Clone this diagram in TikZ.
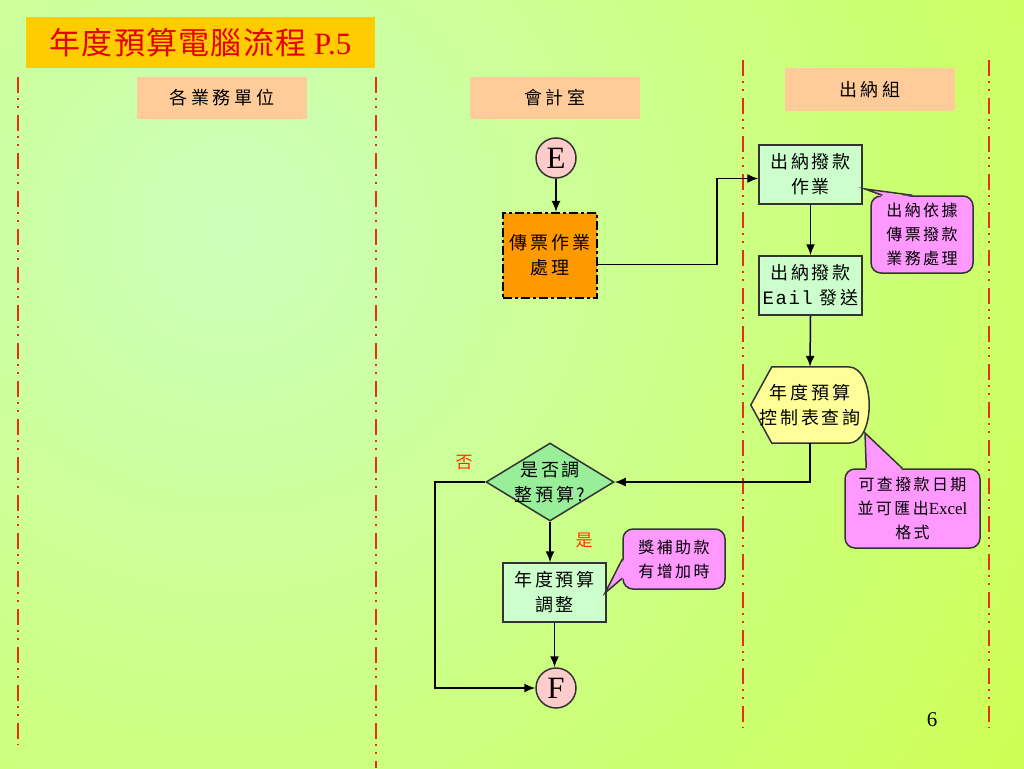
\documentclass[tikz,border=0pt]{standalone}
\usepackage{fontspec}
\setmainfont{Liberation Serif}
\setmonofont{Liberation Mono}
\newfontfamily\cjk[LetterSpace=15]{Noto Sans CJK TC}
\newfontfamily\cjkhdr[LetterSpace=20]{Noto Sans CJK TC}
\newfontfamily\cjktitle[LetterSpace=4]{Noto Sans CJK TC}
\newfontfamily\lmono[LetterSpace=8]{Liberation Mono}
\usetikzlibrary{arrows.meta,calc,shapes.geometric}
\pgfdeclarelayer{bg}
\pgfdeclarelayer{behind}
\pgfsetlayers{bg,behind,main}
\definecolor{bglight}{HTML}{CCFFBB}
\definecolor{bgyg}{HTML}{CCFF44}
\definecolor{titlebg}{HTML}{FFCC00}
\definecolor{titlered}{HTML}{E60000}
\definecolor{hdr}{HTML}{FFCC99}
\definecolor{boxg}{HTML}{CCFFCC}
\definecolor{pinkc}{HTML}{FFCCCC}
\definecolor{orng}{HTML}{FF9900}
\definecolor{callp}{HTML}{FF99FF}
\definecolor{dispy}{HTML}{FFFF99}
\definecolor{diag}{HTML}{99EE99}
\definecolor{lanered}{HTML}{E83010}
\definecolor{labred}{HTML}{FF3300}
\definecolor{edge}{HTML}{333333}
\tikzset{
  lane/.style={draw=lanered, line width=2pt, dash pattern=on 16pt off 5pt on 2pt off 6pt on 2pt off 7pt},
  hdrbox/.style={fill=hdr, minimum width=170pt, minimum height=42pt, inner sep=0pt, font=\cjkhdr\fontsize{18}{22}\selectfont},
  procbox/.style={draw=edge, line width=1.5pt, fill=boxg, minimum width=103pt, minimum height=59pt, inner sep=0pt, align=center, font=\cjk\fontsize{18}{25}\selectfont},
  conn/.style={circle, draw=edge, line width=1.5pt, fill=pinkc, minimum size=40pt, inner sep=0pt, font=\fontsize{31}{31}\selectfont},
  callbox/.style={draw=edge, line width=1.5pt, fill=callp, rounded corners=10pt, inner sep=0pt, align=center, font=\cjk\fontsize{16}{24}\selectfont},
  ptrfill/.style={fill=callp},
  ptredge/.style={draw=edge, line width=1.5pt},
  arr/.style={draw=black, line width=1.5pt, -{Latex[length=11pt,width=9pt]}},
  lab/.style={text=labred, font=\cjk\fontsize{17}{17}\selectfont},
}
\begin{document}
\begin{tikzpicture}[x=1pt,y=-1pt]
\useasboundingbox (0,0) rectangle (1024,768);
\begin{pgfonlayer}{bg}
\fill[bgyg] (0,0) rectangle (1024,768);
\begin{scope}
\clip (0,0) rectangle (1024,768);
\shade[inner color=bglight, outer color=bgyg] (230,230) circle (1100);
\end{scope}
\end{pgfonlayer}

% swimlane separators
\draw[lane] (18,77) -- (18,745);
\draw[lane] (376,77) -- (376,768);
\draw[lane] (743,60) -- (743,728);
\draw[lane] (989,60) -- (989,728);

% title and headers
\node[fill=titlebg, minimum width=349pt, minimum height=51pt, inner sep=0pt, text=titlered] (title) at (200.5,42.5)
  {\cjktitle\fontsize{31}{31}\selectfont 年度預算電腦流程\rmfamily\ P.5};
\node[hdrbox] (h1) at (222,98) {各業務單位};
\node[hdrbox] (h2) at (555,98) {會計室};
\node[hdrbox, minimum height=43pt] (h3) at (870,89.5) {出納組};

% flow nodes
\node[conn] (E) at (556,158) {E};
\node[draw=black, line width=2.2pt, dash pattern=on 9pt off 3pt on 3pt off 3pt, fill=orng,
      minimum width=94pt, minimum height=85pt, inner sep=0pt, align=center,
      font=\cjk\fontsize{18}{25}\selectfont] (p1) at (550,255.5) {傳票作業\\處理};
\node[procbox] (n1) at (810.5,174.5) {出納撥款\\作業};
\node[procbox] (n2) at (810.5,285.5) {出納撥款\\{\lmono\fontsize{19}{25}\selectfont Eail} 發送};
\node[minimum width=118pt, minimum height=76pt, inner sep=0pt, align=center,
      font=\cjk\fontsize{18}{25}\selectfont] (disp) at (810,405) {年度預算\\控制表查詢};
\begin{pgfonlayer}{behind}
\filldraw[fill=dispy, draw=edge, line width=1.5pt]
  (disp.west) -- ($(disp.north west)+(21,0)$) -- ($(disp.north east)+(-21,0)$)
  .. controls ($(disp.north east)+(7,0)$) and ($(disp.south east)+(7,0)$) .. ($(disp.south east)+(-21,0)$)
  -- ($(disp.south west)+(21,0)$) -- cycle;
\end{pgfonlayer}
\node[diamond, draw=edge, line width=1.5pt, fill=diag, minimum width=128pt, minimum height=78pt, inner sep=0pt] (dia) at (550,482) {};
\node[align=center, font=\cjk\fontsize{18}{25}\selectfont] (diat) at (dia.center) {是否調\\整預算?};
\node[procbox] (r) at (554.5,592.5) {年度預算\\調整};
\node[conn] (F) at (556,688) {F};

% labels
\node[lab] (no) at (464,463) {否};
\node[lab] (yes) at (584,540) {是};
\node[font=\fontsize{21}{21}\selectfont] (pg) at (932,720) {6};

% callouts
\node[callbox, minimum width=102pt, minimum height=77pt] (c1) at (922,234.5) {出納依據\\傳票撥款\\業務處理};
\coordinate (t1) at (865,189);
\fill[ptrfill] ($(c1.north west)+(12,1.8)$) -- (t1) -- ($(c1.north west)+(42,1.8)$) -- cycle;
\draw[ptredge] ($(c1.north west)+(12,0)$) -- (t1) -- ($(c1.north west)+(42,0)$);

\node[callbox, minimum width=135pt, minimum height=79pt] (c2) at (912.5,508.5) {可查撥款日期\\並可匯出{\rmfamily\fontsize{17}{24}\selectfont Excel}\\格式};
\coordinate (t2) at (865,433);
\fill[ptrfill] ($(c2.north west)+(22,1.8)$) -- (t2) -- ($(c2.north west)+(58,1.8)$) -- cycle;
\draw[ptredge] ($(c2.north west)+(22,0)$) -- (t2) -- ($(c2.north west)+(58,0)$);

\node[callbox, minimum width=102pt, minimum height=60pt] (c3) at (674,559) {獎補助款\\有增加時};
\coordinate (t3) at (605,593);
\fill[ptrfill] ($(c3.north west)+(1.8,31)$) -- (t3) -- ($(c3.north west)+(1.8,50)$) -- cycle;
\draw[ptredge] ($(c3.north west)+(0,31)$) -- (t3) -- ($(c3.north west)+(0,50)$);

% connectors
\draw[arr] (E.south) -- (E.south |- p1.north);
\coordinate (p1o) at ($(p1.east)+(0,9)$);
\coordinate (n1i) at ($(n1.west)+(0,4)$);
\coordinate (k1) at (717,0);
\draw[arr] (p1o) -- (p1o -| k1) |- (n1i);
\draw[arr] (n1.south) -- (n2.north);
\draw[arr] (n2.south) -- (disp.north);
\draw[arr] (disp.south) |- (dia.east);
\draw[arr] (dia.south) -- (dia.south |- r.north);
\coordinate (k2) at (435,0);
\draw[arr] (dia.west) -- (dia.west -| k2) |- (F.west);
\draw[arr] (r.south) -- (r.south |- F.north);
\end{tikzpicture}
\end{document}
